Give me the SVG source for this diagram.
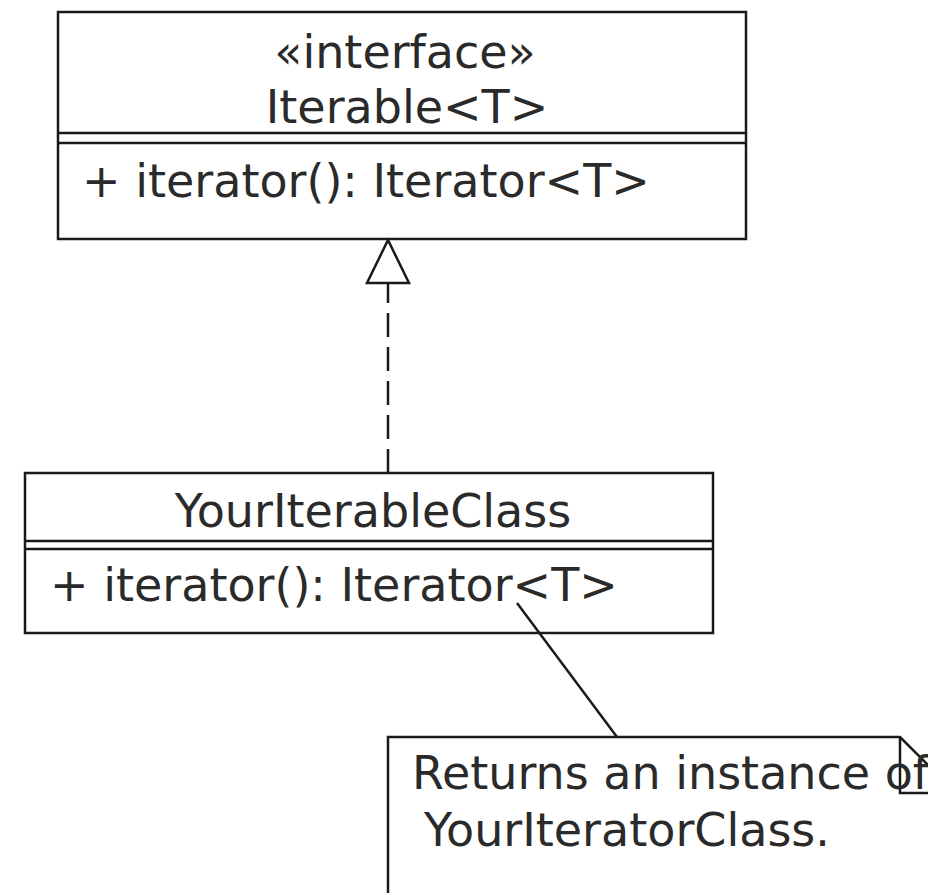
<svg xmlns="http://www.w3.org/2000/svg" width="928" height="893" viewBox="0 0 928 893">
  <style>
    .box { fill: #ffffff; stroke: #1a1a1a; stroke-width: 2.5; }
    .line { fill: none; stroke: #1a1a1a; stroke-width: 2.5; }
    .txt { font-family: "DejaVu Sans", "Liberation Sans", sans-serif; font-size: 46px; fill: #2a2a2a; }
    .mid { text-anchor: middle; }
  </style>
  <rect width="928" height="893" fill="#ffffff"/>

  <!-- interface Iterable<T> -->
  <g id="iterable">
    <rect class="box" x="58" y="12" width="688" height="227"/>
    <line class="line" x1="58" y1="133" x2="746" y2="133"/>
    <line class="line" x1="58" y1="143" x2="746" y2="143"/>
    <text class="txt mid" x="405" y="68">«interface»</text>
    <text class="txt mid" x="407" y="123">Iterable&lt;T&gt;</text>
    <text class="txt" x="82" y="197">+ iterator(): Iterator&lt;T&gt;</text>
  </g>

  <!-- implementing class -->
  <g id="your-iterable-class">
    <rect class="box" x="25" y="473" width="688" height="160"/>
    <line class="line" x1="25" y1="541" x2="713" y2="541"/>
    <line class="line" x1="25" y1="549" x2="713" y2="549"/>
    <text class="txt mid" x="373" y="527">YourIterableClass</text>
    <text class="txt" x="50" y="601">+ iterator(): Iterator&lt;T&gt;</text>
  </g>

  <!-- note: the page edge clips its right side and last word -->
  <g id="note">
    <path class="box" d="M388 893 V737 H900 L956 793 V893"/>
    <path class="line" d="M900 737 V793 H956"/>
    <text class="txt" x="412" y="789">Returns an instance of</text>
    <text class="txt" x="424" y="846">YourIteratorClass.</text>
  </g>

  <!-- connectors -->
  <g id="connectors">
    <line class="line" x1="388" y1="473" x2="388" y2="283" stroke-dasharray="24 10"/>
    <polygon class="box" points="388,240 367,283 409,283"/>
    <line class="line" x1="517" y1="603" x2="617" y2="737" stroke-width="2"/>
  </g>
</svg>
